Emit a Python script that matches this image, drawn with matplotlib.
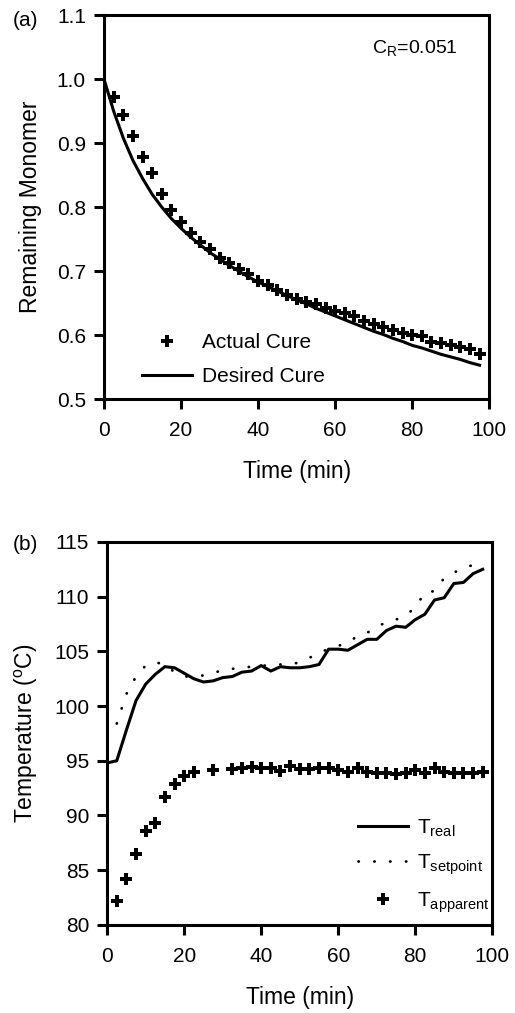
import matplotlib
matplotlib.use("Agg")
import matplotlib.pyplot as plt
import numpy as np

plt.rcParams['font.family'] = ['Liberation Sans', 'DejaVu Sans']
plt.rcParams['mathtext.fontset'] = 'custom'
plt.rcParams['mathtext.rm'] = 'Liberation Sans'
plt.rcParams['mathtext.it'] = 'Liberation Sans'

# ---- panel (a): remaining monomer ----
t_desired = np.arange(0, 100, 2.5)
desired_cure = [1.000, 0.950, 0.908, 0.873, 0.845, 0.820, 0.800, 0.782, 0.767, 0.753,
                0.741, 0.729, 0.719, 0.709, 0.700, 0.691, 0.683, 0.676, 0.669, 0.662,
                0.655, 0.649, 0.642, 0.636, 0.630, 0.624, 0.618, 0.612, 0.606, 0.601,
                0.595, 0.590, 0.584, 0.580, 0.575, 0.570, 0.566, 0.562, 0.557, 0.553]

t_actual = np.arange(2.5, 100, 2.5)
actual_cure = [0.972, 0.944, 0.911, 0.879, 0.854, 0.821, 0.796, 0.777, 0.759, 0.745,
               0.734, 0.721, 0.713, 0.703, 0.695, 0.685, 0.679, 0.670, 0.662, 0.656,
               0.652, 0.648, 0.642, 0.637, 0.634, 0.630, 0.622, 0.617, 0.613, 0.608,
               0.603, 0.600, 0.598, 0.590, 0.588, 0.585, 0.582, 0.578, 0.570]

# ---- panel (b): temperatures ----
t_real = np.arange(0, 100, 2.5)
T_real = [94.8, 95.0, 97.8, 100.5, 102.0, 102.9, 103.6, 103.5, 103.0, 102.5,
          102.2, 102.3, 102.6, 102.7, 103.1, 103.2, 103.7, 103.2, 103.6, 103.5,
          103.5, 103.6, 103.8, 105.2, 105.2, 105.1, 105.6, 106.1, 106.1, 106.9,
          107.3, 107.2, 107.9, 108.4, 109.7, 109.9, 111.2, 111.3, 112.1, 112.5]

t_setpoint = np.arange(2.5, 100, 2.5)
T_setpoint = [98.4, 101.1, 102.7, 103.7, 104.0, 103.8, 103.1, 102.7, 102.7, 102.8,
              103.0, 103.3, 103.4, 103.5, 103.6, 103.7, 103.7, 103.8, 103.8, 104.0,
              104.4, 104.9, 105.2, 105.5, 105.8, 106.4, 106.7, 107.2, 107.7, 107.9,
              108.3, 109.0, 110.4, 110.5, 111.7, 112.2, 112.6, 112.9, 113.1]

t_apparent = [2.5, 5, 7.5, 10, 12.5, 15, 17.5, 20, 22.5, 27.5,
              32.5, 35, 37.5, 40, 42.5, 45, 47.5, 50, 52.5, 55,
              57.5, 60, 62.5, 65, 67.5, 70, 72.5, 75, 77.5, 80,
              82.5, 85, 87.5, 90, 92.5, 95, 97.5]
T_apparent = [82.2, 84.2, 86.5, 88.6, 89.3, 91.7, 92.9, 93.6, 94.0, 94.15,
              94.24, 94.30, 94.39, 94.30, 94.30, 94.09, 94.54, 94.24, 94.24, 94.30,
              94.30, 94.15, 93.93, 94.30, 93.96, 93.87, 93.87, 93.78, 93.87, 94.18,
              93.87, 94.30, 93.93, 93.87, 93.84, 93.84, 93.93]

fig = plt.figure(figsize=(5.15, 10.13), dpi=100)
ax1 = fig.add_axes([0.202, 0.606, 0.748, 0.379])
ax2 = fig.add_axes([0.208, 0.087, 0.748, 0.378])

fs = 15
for ax in (ax1, ax2):
    for sp in ax.spines.values():
        sp.set_linewidth(2.2)
    ax.tick_params(direction='out', length=7, width=2.2, labelsize=fs, pad=6)
    ax.tick_params(axis='x', pad=9)
    ax.set_xlim(0, 100)
    ax.set_xticks(np.arange(0, 101, 20))
    ax.set_xlabel("Time (min)", fontsize=16.5, labelpad=14)

# panel (a)
ax1.plot(t_desired, desired_cure, color='black', lw=2.2, label='Desired Cure')
ax1.plot(t_actual, actual_cure, linestyle='none', marker='P', ms=8,
         color='black', mew=0, label='Actual Cure')
ax1.set_ylim(0.5, 1.1)
ax1.set_yticks(np.arange(0.5, 1.11, 0.1))
ax1.set_yticklabels([f"{v:.1f}" for v in np.arange(0.5, 1.11, 0.1)])
ax1.set_ylabel("Remaining Monomer", fontsize=16.5, labelpad=11)
ax1.text(69.5, 1.048, r"C$_{\mathrm{R}}$=0.051", fontsize=14, va='center', ha='left')
h, l = ax1.get_legend_handles_labels()
ax1.legend(h[::-1], l[::-1], loc='lower left', bbox_to_anchor=(0.06, -0.005),
           frameon=False, fontsize=fs, handlelength=2.4, handletextpad=0.5,
           labelspacing=0.75, borderaxespad=0.3)

# panel (b)
ax2.plot(t_real, T_real, color='black', lw=2.2, label=r'T$_{\mathrm{real}}$')
ax2.plot(t_setpoint, T_setpoint, color='black', lw=2.0, dashes=(0.1, 5.6),
         dash_capstyle='round', label=r'T$_{\mathrm{setpoint}}$')
ax2.plot(t_apparent, T_apparent, linestyle='none', marker='P', ms=8,
         color='black', mew=0, label=r'T$_{\mathrm{apparent}}$')
ax2.set_ylim(80, 115)
ax2.set_yticks(np.arange(80, 116, 5))
ax2.set_ylabel(r"Temperature ($^{\mathrm{o}}$C)", fontsize=16.5, labelpad=10)
ax2.legend(loc='lower right', bbox_to_anchor=(1.03, -0.012), frameon=False,
           fontsize=fs, handlelength=2.4, handletextpad=0.4,
           labelspacing=0.65, borderaxespad=0.3)

fig.text(13 / 515, 1 - 20 / 1013, "(a)", fontsize=fs, va='center', ha='left')
fig.text(13 / 515, 1 - 545 / 1013, "(b)", fontsize=fs, va='center', ha='left')

fig.savefig("out.png", dpi=100)
